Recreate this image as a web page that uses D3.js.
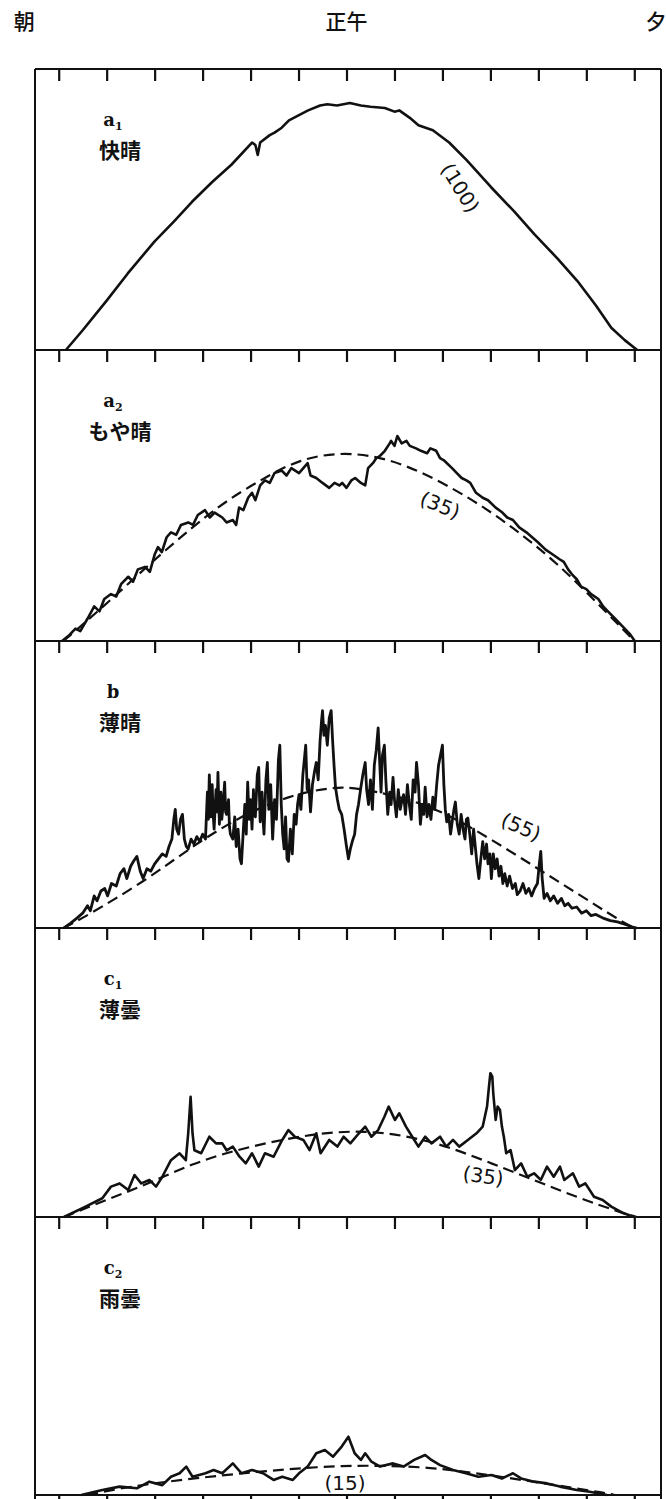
<!DOCTYPE html>
<html>
<head>
<meta charset="utf-8">
<script src="https://cdn.jsdelivr.net/npm/d3@7"></script>
<style>
body { margin: 0; background: #fff; }
</style>
</head>
<body>
<script>
// ---- data (hours of the day, relative irradiance: a1 peak = 100) ----
const tickHours = [6, 7, 8, 9, 10, 11, 12, 13, 14, 15, 16, 17, 18];
const topLabels = ['朝', '正午', '夕'];
const topLabelHours = [5.28, 12, 18.45];

const panelLetters = ['a', 'a', 'b', 'c', 'c'];
const panelSubs = ['1', '2', '', '1', '2'];
const panelWeather = ['快晴', 'もや晴', '薄晴', '薄曇', '雨曇'];

const totalLabels = ['(100)', '(35)', '(55)', '(35)', '(15)'];
const totalHours = [14.37, 13.95, 15.64, 14.85, 11.97];
const totalValues = [65.6, 55, 40.9, 16.6, 4.9];
const totalAngles = [58, 22, 24, 8, 0];

const a1Solid = [[6.15,0],[6.5,8],[7.0,20],[7.44,31],[8.0,44],[8.4,52],[8.78,60],[9.2,68],[9.6,75],
  [10.03,84],[10.1,83],[10.15,79],[10.2,84],[10.4,87],[10.5,88],[10.65,90],[10.8,93],[11.0,95],[11.2,97],
  [11.45,99],[11.6,99.5],[11.8,99],[12.07,100],[12.3,99],[12.5,98.5],[12.8,98],[13.0,96.5],[13.1,97],
  [13.32,94],[13.5,91],[13.8,89],[14.14,84],[14.5,77],[15.01,66],[15.5,56],[15.91,47],[16.4,37],
  [16.81,28],[17.2,18],[17.52,9],[17.8,4],[18.06,0]];

const a2Solid = [[6.07,0],[6.2,2],[6.35,5],[6.45,4],[6.6,9],[6.74,14],[6.85,12],[6.95,17],[7.09,19],[7.2,18],
  [7.3,23],[7.45,26],[7.55,24],[7.65,29],[7.8,30],[7.9,28],[8.0,35],[8.07,38],[8.15,36],[8.25,42],[8.34,44],
  [8.45,43],[8.55,47],[8.7,48],[8.8,47],[8.9,51],[9.05,53],[9.15,50],[9.25,52],[9.41,50],[9.5,48],[9.63,49],
  [9.7,47],[9.76,54],[9.85,53],[9.95,58],[10.03,60],[10.1,57],[10.2,63],[10.3,65],[10.4,64],[10.5,68],
  [10.65,69],[10.75,67],[10.85,70],[11.01,68],[11.1,70],[11.19,72],[11.25,67],[11.37,66],[11.5,64],
  [11.64,62],[11.75,64],[11.85,63],[11.91,64],[12.0,62],[12.1,65],[12.18,66],[12.3,64],[12.39,63],
  [12.45,70],[12.55,72],[12.62,74],[12.7,75],[12.8,77],[12.9,80],[12.93,81],[13.0,79],[13.06,83],
  [13.15,80],[13.25,81],[13.32,79],[13.45,78],[13.55,77],[13.68,76],[13.75,78],[13.87,77],[13.95,74],
  [14.04,73],[14.2,70],[14.3,68],[14.4,66],[14.5,65],[14.58,64],[14.7,60],[14.84,58],[14.95,57],
  [15.11,54],[15.25,52],[15.35,50],[15.47,49],[15.6,46],[15.75,44],[15.99,40],[16.15,37],[16.3,35],
  [16.45,33],[16.53,32],[16.62,29],[16.7,27],[16.8,25],[16.89,22],[17.0,21],[17.1,19],[17.25,17],
  [17.35,14],[17.45,12],[17.6,9],[17.75,6],[17.9,3],[18.01,0]];
const a2Dashed = [[6.1,0],[7.0,15],[8.16,36],[9.41,56],[10.12,64],[11.0,74],[12.1,77],[13.24,72],
  [14.58,58],[15.47,46],[16.37,32],[17.25,15],[18.0,0]];

const bSolid = [[6.11,0],[6.25,2],[6.38,4],[6.5,6],[6.6,9],[6.66,7],[6.74,13],[6.8,11],[6.88,15],[6.96,16],
  [7.02,13],[7.1,18],[7.2,17],[7.28,22],[7.36,24],[7.42,20],[7.5,25],[7.56,27],[7.63,29],[7.7,23],[7.76,20],
  [7.84,24],[7.92,23],[8.0,26],[8.08,28],[8.16,30],[8.24,29],[8.3,33],[8.36,36],[8.4,44],[8.43,48],[8.46,40],
  [8.5,38],[8.54,44],[8.58,46],[8.62,36],[8.66,33],[8.7,32],[8.76,36],[8.82,34],[8.88,37],[8.94,35],[9.0,38],
  [9.06,36],[9.1,55],[9.12,44],[9.14,62],[9.17,45],[9.2,58],[9.22,46],[9.24,40],[9.28,56],[9.3,47],[9.32,63],
  [9.35,42],[9.38,55],[9.4,44],[9.42,48],[9.46,59],[9.48,47],[9.5,46],[9.54,52],[9.56,41],[9.58,38],
  [9.63,36],[9.67,45],[9.7,33],[9.74,40],[9.78,28],[9.81,26],[9.85,40],[9.88,50],[9.91,38],[9.94,59],
  [9.97,44],[10.0,52],[10.03,40],[10.06,56],[10.08,46],[10.1,45],[10.14,62],[10.17,65],[10.2,43],
  [10.24,55],[10.26,44],[10.28,38],[10.32,60],[10.35,67],[10.38,48],[10.42,58],[10.46,36],[10.5,52],
  [10.54,44],[10.58,68],[10.61,74],[10.64,50],[10.67,38],[10.7,32],[10.73,45],[10.76,28],[10.79,27],
  [10.83,40],[10.87,30],[10.91,46],[10.95,42],[10.98,50],[11.01,54],[11.05,48],[11.09,62],[11.12,68],
  [11.15,74],[11.18,56],[11.21,60],[11.25,47],[11.29,58],[11.33,63],[11.37,67],[11.41,60],[11.45,76],
  [11.48,84],[11.5,88],[11.53,78],[11.56,82],[11.6,74],[11.64,85],[11.68,88],[11.71,76],[11.74,66],
  [11.77,57],[11.81,52],[11.85,48],[11.9,46],[11.95,40],[12.0,33],[12.04,28],[12.08,32],[12.12,35],
  [12.17,38],[12.21,46],[12.25,50],[12.3,57],[12.34,62],[12.39,67],[12.42,56],[12.46,50],[12.5,60],
  [12.54,48],[12.58,66],[12.62,72],[12.66,81],[12.69,68],[12.72,55],[12.75,70],[12.79,74],[12.82,60],
  [12.86,46],[12.9,55],[12.93,50],[12.97,61],[13.0,52],[13.04,45],[13.08,56],[13.12,48],[13.16,52],
  [13.19,54],[13.23,46],[13.27,58],[13.31,50],[13.35,44],[13.39,60],[13.43,55],[13.46,67],[13.5,58],
  [13.54,42],[13.58,50],[13.61,46],[13.64,57],[13.68,45],[13.72,50],[13.76,44],[13.8,53],[13.84,48],
  [13.88,58],[13.92,66],[13.96,70],[14.0,74],[14.03,58],[14.06,48],[14.09,43],[14.13,46],[14.17,38],
  [14.21,44],[14.24,48],[14.27,51],[14.31,42],[14.35,38],[14.39,46],[14.43,40],[14.47,36],[14.5,44],
  [14.53,44.5],[14.57,38],[14.61,30],[14.65,40],[14.69,32],[14.72,26],[14.76,20],[14.8,28],[14.84,35],
  [14.88,28],[14.92,34],[14.95,26],[14.99,30],[15.02,20],[15.06,30],[15.1,24],[15.14,28],[15.18,21],
  [15.22,25],[15.26,18],[15.3,22],[15.35,17],[15.4,21],[15.46,16],[15.52,18],[15.56,13.5],[15.62,15],
  [15.68,18],[15.74,14],[15.8,16],[15.86,13],[15.92,16],[15.98,18],[16.02,26],[16.05,31],[16.08,20],
  [16.12,12],[16.18,14],[16.25,11],[16.32,13],[16.4,10],[16.48,12],[16.55,9],[16.62,10],[16.7,8],
  [16.8,8.5],[16.9,6],[17.0,7],[17.1,5],[17.2,5.5],[17.35,4],[17.5,3],[17.65,2.5],[17.8,1.5],[17.95,0.5],
  [18.05,0]];
const bDashed = [[6.1,0],[6.55,4.5],[7.8,19],[8.78,33],[9.76,45],[10.84,54],[11.72,57],[12.18,57],
  [13.68,51],[15.01,36],[15.91,25],[16.81,14],[17.7,3],[18.0,0]];

const c1Solid = [[6.11,0],[6.56,4.2],[6.91,7.6],[7.09,12.3],[7.27,13.6],[7.45,10.9],[7.58,17],[7.72,13.6],
  [7.89,15],[8.03,12.3],[8.16,16.3],[8.34,23],[8.52,25.8],[8.65,23],[8.7,33.9],[8.75,48.7],[8.79,33.9],
  [8.83,27],[8.97,25.8],[9.14,32.5],[9.28,29.8],[9.41,29.8],[9.5,27],[9.63,28.5],[9.77,24.4],[9.9,21.7],
  [10.03,25.8],[10.17,20.4],[10.3,25.8],[10.48,24.4],[10.66,31.2],[10.79,35.2],[10.92,32.5],[11.1,31.2],
  [11.23,27.1],[11.37,33.9],[11.46,25.8],[11.64,31.2],[11.81,28.5],[11.94,32.5],[12.08,29.8],[12.26,33.9],
  [12.39,36.6],[12.52,32.5],[12.66,35.2],[12.79,40.6],[12.88,44.7],[13.01,39.3],[13.1,42],[13.24,36.6],
  [13.37,32.5],[13.5,28.5],[13.64,32.5],[13.77,29.8],[13.95,32.5],[14.08,28.5],[14.22,31.2],[14.35,28.5],
  [14.53,31.2],[14.71,33.9],[14.84,36.6],[14.93,44.7],[14.97,52.8],[15.0,58.2],[15.04,56.8],[15.06,50],
  [15.11,39.3],[15.15,44.7],[15.2,43.3],[15.24,36.6],[15.28,32.5],[15.33,25.8],[15.42,27.1],[15.51,19],
  [15.64,21.7],[15.77,16.3],[15.91,17.7],[16.05,15],[16.18,20.4],[16.32,16.3],[16.45,20.4],[16.54,15],
  [16.72,17.7],[16.85,12.3],[16.98,13.6],[17.16,8.2],[17.34,6.9],[17.52,4.2],[17.78,1.5],[18.0,0]];
const c1Dashed = [[6.11,0],[7.0,7],[7.89,13.6],[8.79,21.7],[9.68,27],[10.57,31],[11.46,34],[12.35,35],
  [13.24,33],[14.13,28.5],[15.02,21.7],[15.91,15],[16.8,8],[17.69,2],[18.05,0]];

const c2Solid = [[6.47,0],[6.91,2],[7.27,3.4],[7.63,2.7],[7.89,5.4],[8.16,4],[8.34,7.4],[8.52,8.8],
  [8.66,11.5],[8.79,7.4],[9.06,8.8],[9.23,10.1],[9.41,8.8],[9.63,12.8],[9.81,8.8],[10.03,10.1],[10.26,8.8],
  [10.48,6.1],[10.66,7.4],[10.88,6.1],[11.01,8.8],[11.19,11.5],[11.37,16.9],[11.55,18.2],[11.72,15.5],
  [11.9,19.6],[12.04,23.6],[12.17,16.9],[12.3,14.2],[12.39,16.9],[12.52,13.5],[12.7,11.5],[12.97,12.8],
  [13.19,11.5],[13.41,14.2],[13.64,16.2],[13.77,14.2],[13.95,12.1],[14.22,10.1],[14.49,8.8],[14.75,7.4],
  [15.02,8.1],[15.24,6.7],[15.47,8.8],[15.64,6.7],[15.91,5.4],[16.18,4.7],[16.45,3.4],[16.8,2],
  [17.07,1.3],[17.43,0]];
const c2Dashed = [[6.6,0],[7.45,3.4],[8.79,6.7],[10.12,9.4],[11.46,11.5],[12.35,12],[13.69,11.5],
  [15.02,8],[16.36,4],[17.43,0.7],[17.6,0]];

const solidSeries = [a1Solid, a2Solid, bSolid, c1Solid, c2Solid];
const dashedSeries = [null, a2Dashed, bDashed, c1Dashed, c2Dashed];

// ---- layout ----
const width = 666;
const height = 1499;
const frame = {left: 35, right: 661, top: 69};
const panelTops = [69, 350, 641, 928, 1217];
const panelBottoms = [350, 641, 928, 1217, 1495];
const unitPx = 2.47;

const svg = d3.select('body').append('svg')
    .attr('width', width)
    .attr('height', height)
    .style('display', 'block');

const x = d3.scaleLinear().domain([6, 18]).range([58.7, 634.3]);

// top labels
svg.selectAll('.toplabel')
    .data(topLabels)
    .enter()
    .append('text')
    .attr('class', 'toplabel')
    .text(d => d)
    .attr('x', (d, i) => x(topLabelHours[i]))
    .attr('y', 29)
    .attr('text-anchor', 'middle')
    .style('font-family', '"Noto Sans CJK JP", sans-serif')
    .style('font-weight', 500)
    .style('font-size', '21px')
    .attr('fill', '#111');

// frame sides
svg.append('line')
    .attr('x1', frame.left).attr('x2', frame.left)
    .attr('y1', frame.top).attr('y2', height)
    .attr('stroke', '#111').attr('stroke-width', 2);
svg.append('line')
    .attr('x1', frame.right).attr('x2', frame.right)
    .attr('y1', frame.top).attr('y2', height)
    .attr('stroke', '#111').attr('stroke-width', 2);

// horizontal lines with downward ticks
const hLines = [frame.top].concat(panelBottoms);
hLines.forEach(function(yy) {
    svg.append('line')
        .attr('x1', frame.left).attr('x2', frame.right)
        .attr('y1', yy).attr('y2', yy)
        .attr('stroke', '#111').attr('stroke-width', 2);
    const ax = svg.append('g')
        .attr('transform', `translate(0, ${yy})`)
        .call(d3.axisBottom(x).tickValues(tickHours).tickSize(12).tickFormat(''));
    ax.select('.domain').remove();
    ax.selectAll('.tick line').attr('stroke', '#111').attr('stroke-width', 2.2);
});

const solidLine = d3.line().curve(d3.curveLinear);
const dashedLine = d3.line().curve(d3.curveBasis);

panelTops.forEach(function(top, i) {
    const bottom = panelBottoms[i];
    const y = d3.scaleLinear().domain([0, 100]).range([bottom, bottom - 100 * unitPx]);
    const g = svg.append('g');

    if (dashedSeries[i]) {
        g.append('path')
            .attr('d', dashedLine.x(d => x(d[0])).y(d => y(d[1]))(dashedSeries[i]))
            .attr('fill', 'none')
            .attr('stroke', '#111')
            .attr('stroke-width', 2.2)
            .attr('stroke-dasharray', '11,6');
    }

    g.append('path')
        .attr('d', solidLine.x(d => x(d[0])).y(d => y(d[1]))(solidSeries[i]))
        .attr('fill', 'none')
        .attr('stroke', '#111')
        .attr('stroke-width', i === 2 ? 2.8 : 2.6)
        .attr('stroke-linejoin', 'round');

    // panel letter with subscript
    const lt = g.append('text')
        .attr('x', 113)
        .attr('y', top + 57)
        .attr('text-anchor', 'middle')
        .attr('fill', '#111')
        .style('font-family', '"DejaVu Serif", serif')
        .style('font-weight', 'bold')
        .style('font-size', '18px');
    lt.append('tspan').text(panelLetters[i]);
    if (panelSubs[i]) {
        lt.append('tspan').text(panelSubs[i])
            .attr('dy', 4)
            .style('font-size', '11px');
    }

    g.append('text')
        .text(panelWeather[i])
        .attr('x', 120)
        .attr('y', top + 89)
        .attr('text-anchor', 'middle')
        .attr('fill', '#111')
        .style('font-family', '"Noto Sans CJK JP", sans-serif')
        .style('font-weight', 'bold')
        .style('font-size', '21px');

    // total in parentheses
    g.append('text')
        .text(totalLabels[i])
        .attr('transform', `translate(${x(totalHours[i])}, ${y(totalValues[i])}) rotate(${totalAngles[i]})`)
        .attr('text-anchor', 'middle')
        .attr('dominant-baseline', 'central')
        .attr('fill', '#111')
        .style('font-family', '"DejaVu Sans", sans-serif')
        .style('font-size', '20px');
});
</script>
</body>
</html>
